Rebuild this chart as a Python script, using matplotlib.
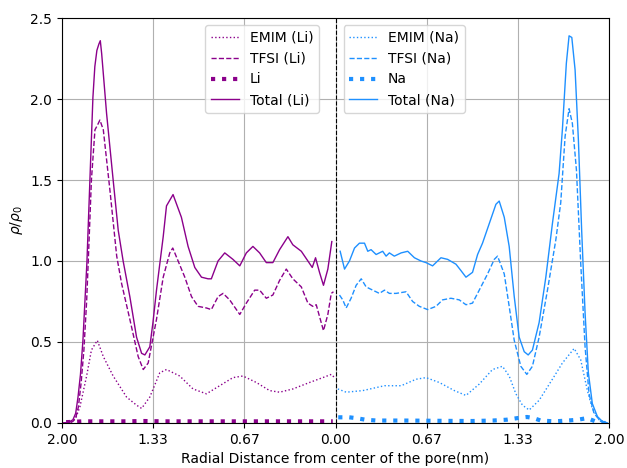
import matplotlib
matplotlib.use("Agg")
import matplotlib.pyplot as plt
import numpy as np

# ---------------- Li side (distance from center, nm) ----------------
r_li_total = [1.99, 1.95, 1.92, 1.90, 1.883, 1.865, 1.847, 1.818, 1.796, 1.774, 1.76, 1.745, 1.73, 1.72,
              1.71, 1.674, 1.626, 1.589, 1.553, 1.504, 1.455, 1.418, 1.394, 1.358, 1.335, 1.309, 1.26, 1.236,
              1.188, 1.127, 1.078, 1.029, 0.98, 0.932, 0.908, 0.859, 0.81, 0.75, 0.70, 0.652, 0.604,
              0.555, 0.506, 0.458, 0.409, 0.348, 0.312, 0.25, 0.202, 0.17, 0.146, 0.117, 0.088, 0.056, 0.027]
li_total = [0.00, 0.005, 0.02, 0.06, 0.16, 0.30, 0.51, 0.99, 1.50, 2.01, 2.20, 2.30, 2.34, 2.36,
            2.28, 1.91, 1.50, 1.19, 1.00, 0.78, 0.53, 0.43, 0.42, 0.47, 0.62, 0.82, 1.15, 1.34,
            1.41, 1.27, 1.09, 0.96, 0.90, 0.89, 0.89, 1.00, 1.05, 1.01, 0.97, 1.05, 1.09,
            1.05, 0.99, 0.99, 1.07, 1.15, 1.10, 1.06, 1.00, 0.96, 1.02, 0.93, 0.85, 0.95, 1.12]

r_li_tfsi = [1.99, 1.95, 1.92, 1.90, 1.88, 1.86, 1.84, 1.82, 1.808, 1.785, 1.759, 1.74, 1.723, 1.698,
             1.65, 1.60, 1.564, 1.504, 1.443, 1.406, 1.37, 1.309, 1.26, 1.212, 1.19, 1.151, 1.102,
             1.053, 1.005, 0.944, 0.908, 0.859, 0.822, 0.774, 0.70, 0.652, 0.591, 0.555, 0.506,
             0.458, 0.409, 0.36, 0.312, 0.25, 0.202, 0.166, 0.141, 0.088, 0.056, 0.031, 0.015]
li_tfsi = [0.00, 0.00, 0.01, 0.03, 0.10, 0.25, 0.45, 0.75, 1.00, 1.50, 1.81, 1.84, 1.87, 1.81,
           1.44, 1.03, 0.86, 0.64, 0.41, 0.33, 0.37, 0.64, 0.90, 1.05, 1.08, 1.00, 0.90,
           0.78, 0.72, 0.71, 0.70, 0.78, 0.80, 0.76, 0.67, 0.74, 0.82, 0.82, 0.77,
           0.79, 0.88, 0.95, 0.89, 0.84, 0.74, 0.72, 0.73, 0.57, 0.67, 0.80, 0.81]

r_li_emim = [1.99, 1.93, 1.90, 1.869, 1.82, 1.785, 1.742, 1.698, 1.626, 1.528, 1.455, 1.418, 1.358,
             1.285, 1.236, 1.139, 1.042, 0.944, 0.847, 0.75, 0.677, 0.579, 0.482, 0.409, 0.312,
             0.19, 0.093, 0.031, 0.007]
li_emim = [0.00, 0.005, 0.03, 0.10, 0.29, 0.45, 0.51, 0.41, 0.29, 0.16, 0.11, 0.09, 0.16,
           0.31, 0.33, 0.29, 0.21, 0.18, 0.23, 0.28, 0.29, 0.25, 0.20, 0.19, 0.21,
           0.25, 0.28, 0.30, 0.28]

r_li_ion = [1.97, 1.85, 1.70, 1.55, 1.40, 1.25, 1.10, 0.95, 0.80, 0.65, 0.50, 0.35, 0.20, 0.05, 0.02]
li_ion = [0.005, 0.01, 0.01, 0.01, 0.012, 0.01, 0.01, 0.01, 0.01, 0.01, 0.01, 0.01, 0.01, 0.01, 0.01]

# ---------------- Na side ----------------
r_na_total = [0.034, 0.066, 0.102, 0.139, 0.175, 0.212, 0.236, 0.26, 0.297, 0.345, 0.37, 0.394, 0.43,
              0.48, 0.528, 0.577, 0.625, 0.662, 0.71, 0.771, 0.82, 0.881, 0.918, 0.954, 1.002, 1.039,
              1.075, 1.124, 1.173, 1.197, 1.234, 1.27, 1.307, 1.343, 1.38, 1.409, 1.44, 1.489, 1.538,
              1.586, 1.635, 1.659, 1.688, 1.708, 1.728, 1.752, 1.776, 1.80, 1.825, 1.849, 1.878,
              1.915, 1.951, 1.988]
na_total = [1.06, 0.95, 1.00, 1.08, 1.11, 1.11, 1.06, 1.07, 1.04, 1.06, 1.03, 1.05, 1.03,
            1.05, 1.06, 1.02, 1.00, 0.99, 0.97, 1.02, 1.01, 0.98, 0.94, 0.90, 0.93, 1.04,
            1.11, 1.23, 1.35, 1.37, 1.27, 1.09, 0.78, 0.53, 0.44, 0.42, 0.45, 0.62, 0.90,
            1.23, 1.54, 1.81, 2.22, 2.39, 2.38, 2.18, 1.75, 1.19, 0.68, 0.31, 0.12,
            0.04, 0.01, 0.00]

r_na_tfsi = [0.029, 0.053, 0.078, 0.114, 0.151, 0.188, 0.224, 0.272, 0.321, 0.358, 0.394, 0.443,
             0.516, 0.564, 0.613, 0.674, 0.735, 0.783, 0.844, 0.905, 0.954, 1.002, 1.051, 1.112,
             1.161, 1.185, 1.234, 1.27, 1.307, 1.355, 1.399, 1.44, 1.489, 1.55, 1.611, 1.647,
             1.679, 1.708, 1.732, 1.762, 1.793, 1.825, 1.854, 1.89, 1.939, 1.988]
na_tfsi = [0.79, 0.76, 0.71, 0.77, 0.85, 0.89, 0.84, 0.82, 0.80, 0.82, 0.80, 0.80,
           0.81, 0.75, 0.72, 0.70, 0.72, 0.76, 0.77, 0.76, 0.73, 0.74, 0.82, 0.92,
           1.01, 1.03, 0.92, 0.72, 0.51, 0.35, 0.30, 0.35, 0.53, 0.82, 1.13, 1.36,
           1.77, 1.94, 1.85, 1.56, 0.99, 0.47, 0.18, 0.06, 0.01, 0.00]

r_na_emim = [0.017, 0.078, 0.20, 0.358, 0.48, 0.589, 0.662, 0.759, 0.869, 0.954, 1.051, 1.148,
             1.221, 1.27, 1.319, 1.367, 1.416, 1.489, 1.586, 1.659, 1.745, 1.793, 1.842, 1.878,
             1.927, 1.988]
na_emim = [0.21, 0.19, 0.20, 0.23, 0.23, 0.27, 0.28, 0.25, 0.20, 0.17, 0.24, 0.33,
           0.35, 0.29, 0.18, 0.11, 0.08, 0.14, 0.27, 0.37, 0.46, 0.39, 0.20, 0.09,
           0.02, 0.00]

r_na_ion = [0.02, 0.10, 0.15, 0.22, 0.30, 0.50, 0.80, 1.00, 1.15, 1.25, 1.33, 1.40, 1.45, 1.50,
            1.60, 1.70, 1.77, 1.84, 1.90, 1.95, 1.99]
na_ion = [0.035, 0.035, 0.03, 0.02, 0.015, 0.015, 0.013, 0.012, 0.015, 0.02, 0.03, 0.037, 0.03,
          0.015, 0.01, 0.015, 0.02, 0.03, 0.01, 0.0, 0.0]

tick_pos = [-2.0, -1.333, -0.667, 0.0, 0.667, 1.333, 2.0]
tick_labels = ["2.00", "1.33", "0.67", "0.00", "0.67", "1.33", "2.00"]

li_color = "darkmagenta"
na_color = "dodgerblue"

fig, ax = plt.subplots(figsize=(6.27, 4.68), dpi=100)
fig.subplots_adjust(left=0.0989, right=0.9713, top=0.9615, bottom=0.0962)

neg = lambda r: -np.asarray(r)
l1, = ax.plot(neg(r_li_emim), li_emim, ls=":", lw=1, color=li_color, label="EMIM (Li)")
l2, = ax.plot(neg(r_li_tfsi), li_tfsi, ls="--", lw=1, color=li_color, label="TFSI (Li)")
l3, = ax.plot(neg(r_li_ion), li_ion, ls=":", lw=3, color=li_color, label="Li")
l4, = ax.plot(neg(r_li_total), li_total, ls="-", lw=1, color=li_color, label="Total (Li)")

n1, = ax.plot(r_na_emim, na_emim, ls=":", lw=1, color=na_color, label="EMIM (Na)")
n2, = ax.plot(r_na_tfsi, na_tfsi, ls="--", lw=1, color=na_color, label="TFSI (Na)")
n3, = ax.plot(r_na_ion, na_ion, ls=":", lw=3, color=na_color, label="Na")
n4, = ax.plot(r_na_total, na_total, ls="-", lw=1, color=na_color, label="Total (Na)")

ax.axvline(0, color="black", ls="--", lw=0.8)

ax.set_xlim(-2, 2)
ax.set_ylim(0, 2.5)
ax.set_xticks(tick_pos)
ax.set_xticklabels(tick_labels)
ax.grid(True)
ax.set_xlabel("Radial Distance from center of the pore(nm)")
ax.set_ylabel(r"$\rho/\rho_0$")

leg1 = ax.legend(handles=[l1, l2, l3, l4], loc="upper right", bbox_to_anchor=(0.4825, 1.0))
ax.add_artist(leg1)
ax.legend(handles=[n1, n2, n3, n4], loc="upper left", bbox_to_anchor=(0.502, 1.0))

fig.savefig("out.png", dpi=100)
